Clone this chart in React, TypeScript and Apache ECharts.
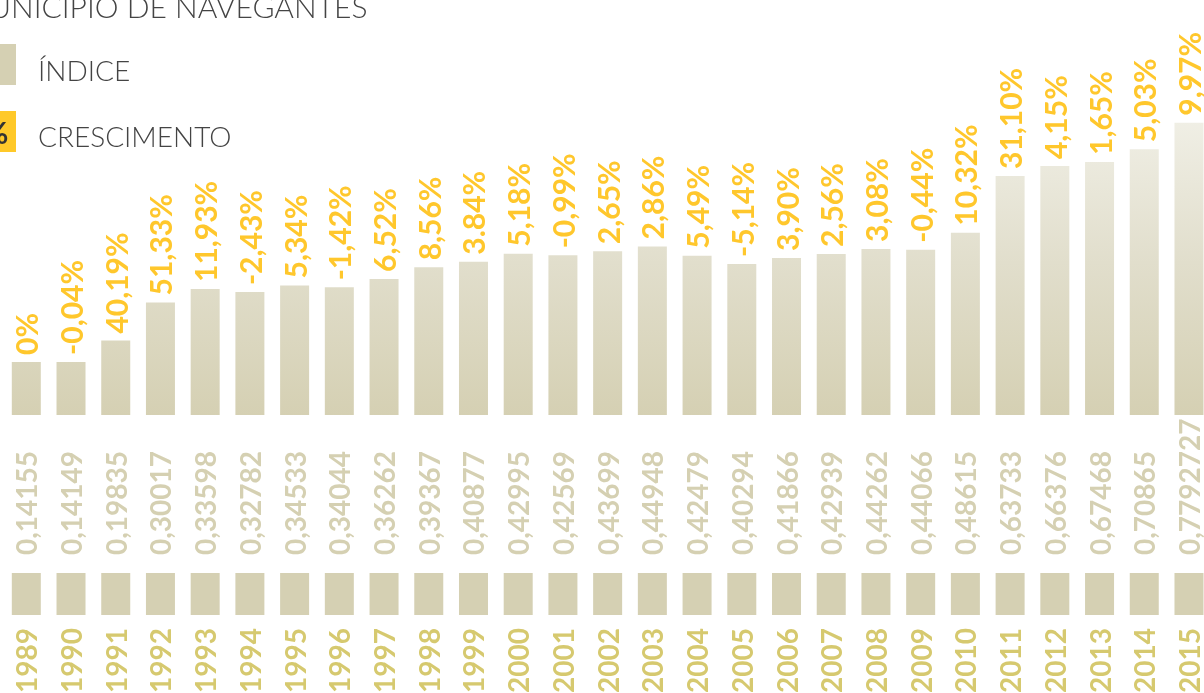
import React, { useEffect, useRef } from "react";
import * as echarts from "echarts";

const years = ["1989","1990","1991","1992","1993","1994","1995","1996","1997","1998","1999","2000","2001","2002","2003","2004","2005","2006","2007","2008","2009","2010","2011","2012","2013","2014","2015"];
const indice = [0.14155,0.14149,0.19835,0.30017,0.33598,0.32782,0.34533,0.34044,0.36262,0.39367,0.40877,0.42995,0.42569,0.43699,0.44948,0.42479,0.40294,0.41866,0.42939,0.44262,0.44066,0.48615,0.63733,0.66376,0.67468,0.70865,0.7792727];
const crescimento = ["0%","-0,04%","40,19%","51,33%","11,93%","-2,43%","5,34%","-1,42%","6,52%","8,56%","3.84%","5,18%","-0,99%","2,65%","2,86%","5,49%","-5,14%","3,90%","2,56%","3,08%","-0,44%","10,32%","31,10%","4,15%","1,65%","5,03%","9,97%"];
const blocks = years.map(() => 1);

const title = "MUNICÍPIO DE NAVEGANTES";
const legendIndice = "ÍNDICE";
const legendCrescimento = "CRESCIMENTO";

export default function App() {
  const ref = useRef<HTMLDivElement>(null);
  useEffect(() => {
    if (!ref.current) return;
    const chart = echarts.init(ref.current, undefined, { renderer: "svg" });
    const gridLeft = 3.94;
    const gridWidth = 1207.4;
    const font = "Lato";
    chart.setOption({
      animation: false,
      grid: [
        { left: gridLeft, width: gridWidth, top: 40, height: 375 },
        { left: gridLeft, width: gridWidth, top: 573, height: 42 },
      ],
      xAxis: [
        { type: "category", data: years, gridIndex: 0, show: false },
        { type: "category", data: years, gridIndex: 1, show: false },
      ],
      yAxis: [
        { type: "value", min: 0, max: 1, gridIndex: 0, show: false },
        { type: "value", min: 0, max: 1, gridIndex: 1, show: false },
      ],
      series: [
        {
          type: "bar",
          xAxisIndex: 0,
          yAxisIndex: 0,
          data: indice,
          barWidth: 29,
          itemStyle: {
            color: {
              type: "linear", x: 0, y: 110, x2: 0, y2: 415, global: true,
              colorStops: [
                { offset: 0, color: "#F1F0E7" },
                { offset: 0.5, color: "#E1DECC" },
                { offset: 1, color: "#D5D0B3" },
              ],
            },
          },
          label: {
            show: true,
            position: "top",
            distance: 7,
            rotate: 90,
            align: "left",
            verticalAlign: "middle",
            color: "#FFC72C",
            fontFamily: font,
            fontWeight: "bold",
            fontSize: 30,
            formatter: (p: any) => crescimento[p.dataIndex],
          },
        },
        {
          type: "bar",
          xAxisIndex: 1,
          yAxisIndex: 1,
          data: blocks,
          barWidth: 29,
          itemStyle: { color: "#D5D0B3" },
          label: {
            show: true,
            position: "bottom",
            distance: 13,
            rotate: 90,
            align: "right",
            verticalAlign: "middle",
            color: "#D6C96F",
            fontFamily: font,
            fontWeight: "bold",
            fontSize: 28,
            formatter: (p: any) => years[p.dataIndex],
          },
        },
        {
          type: "bar",
          xAxisIndex: 1,
          yAxisIndex: 1,
          data: blocks,
          barWidth: 29,
          barGap: "-100%",
          itemStyle: { color: "rgba(0,0,0,0)" },
          label: {
            show: true,
            position: "top",
            distance: 18,
            rotate: 90,
            align: "left",
            verticalAlign: "middle",
            color: "#D5D0B2",
            fontFamily: font,
            fontWeight: "bold",
            fontSize: 28,
            formatter: (p: any) => String(indice[p.dataIndex]).replace(".", ","),
          },
        },
      ],
      graphic: [
        {
          type: "text",
          x: -38,
          y: 6,
          style: {
            text: title,
            fontFamily: font,
            fontWeight: 300,
            fontSize: 30,
            fill: "#444444",
            verticalAlign: "middle",
          },
        },
        { type: "rect", shape: { x: -25, y: 44, width: 41, height: 41 }, style: { fill: "#D5D0B3" } },
        {
          type: "text",
          x: 38,
          y: 69.5,
          style: { text: legendIndice, fontFamily: font, fontWeight: 300, fontSize: 28, fill: "#444444", verticalAlign: "middle" },
        },
        { type: "rect", shape: { x: -25, y: 111, width: 41, height: 41 }, style: { fill: "#FFC929" } },
        {
          type: "text",
          x: -4,
          y: 131.5,
          style: { text: "%", fontFamily: font, fontWeight: "bold", fontSize: 30, fill: "#333333", align: "center", verticalAlign: "middle" },
        },
        {
          type: "text",
          x: 38,
          y: 136,
          style: { text: legendCrescimento, fontFamily: font, fontWeight: 300, fontSize: 28, fill: "#444444", verticalAlign: "middle" },
        },
      ],
    });
    return () => chart.dispose();
  }, []);
  return (
    <div style={{ position: "fixed", left: 0, top: 0, width: 1204, height: 693, overflow: "hidden" }}>
      <div ref={ref} style={{ width: 1214, height: 693 }} />
    </div>
  );
}
